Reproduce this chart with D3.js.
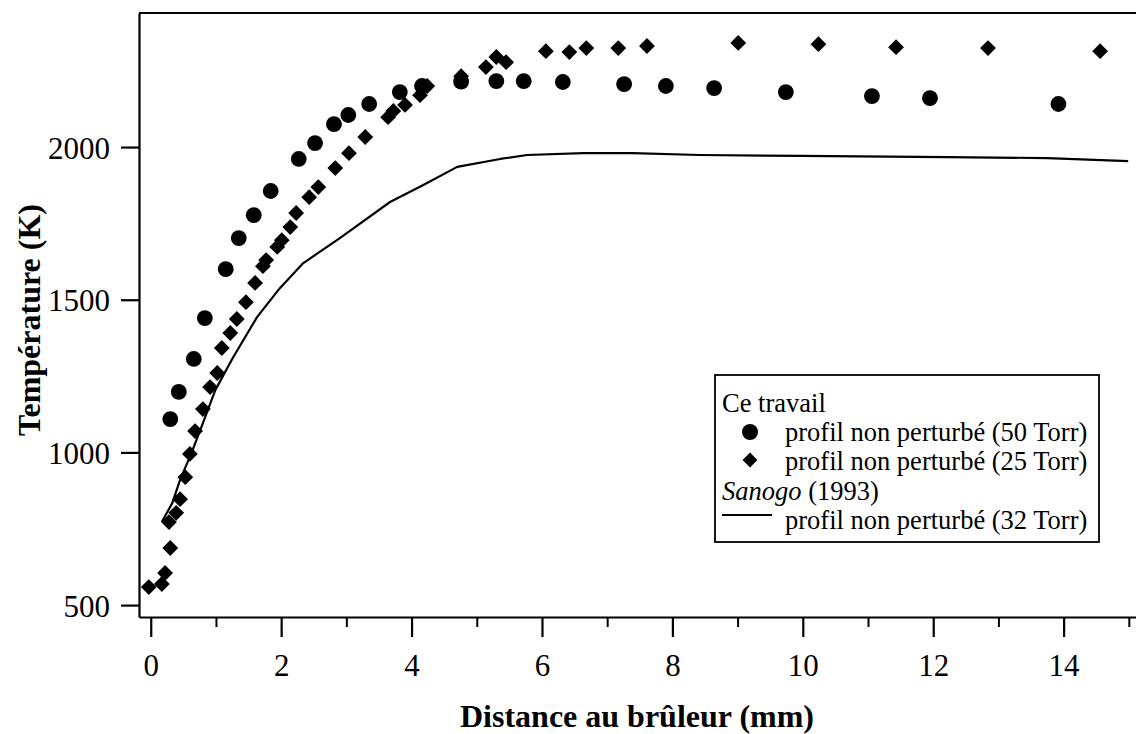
<!DOCTYPE html>
<html>
<head>
<meta charset="utf-8">
<script src="https://cdn.jsdelivr.net/npm/d3@7/dist/d3.min.js"></script>
<style>
  html, body { margin: 0; padding: 0; background: #fff; }
  svg { display: block; }
  text { font-family: "Liberation Serif", "Times New Roman", serif; fill: #000; }
</style>
</head>
<body>
<svg id="chart" width="1136" height="734"></svg>
<script>
// ---- Data ----
// Ce travail, profil non perturbé (50 Torr) — circles
const dist50 = [0.30, 0.43, 0.66, 0.83, 1.15, 1.35, 1.58, 1.84, 2.27, 2.52, 2.81, 3.03, 3.35, 3.82, 4.16, 4.76, 5.30, 5.72, 6.32, 7.26, 7.90, 8.64, 9.74, 11.06, 11.95, 13.92];
const temp50 = [1109, 1198, 1306, 1440, 1600, 1702, 1777, 1856, 1961, 2013, 2075, 2105, 2141, 2180, 2200, 2214, 2216, 2216, 2213, 2206, 2200, 2193, 2180, 2167, 2160, 2141];

// Ce travail, profil non perturbé (25 Torr) — diamonds
const dist25 = [-0.03, 0.17, 0.22, 0.30, 0.28, 0.39, 0.45, 0.53, 0.60, 0.68, 0.80, 0.91, 1.02, 1.09, 1.22, 1.32, 1.46, 1.60, 1.72, 1.77, 1.94, 2.01, 2.14, 2.23, 2.43, 2.57, 2.83, 3.04, 3.29, 3.64, 3.72, 3.90, 4.13, 4.24, 4.76, 5.14, 5.30, 5.45, 6.06, 6.42, 6.68, 7.17, 7.61, 9.01, 10.24, 11.43, 12.84, 14.56];
const temp25 = [559, 569, 605, 687, 772, 802, 847, 919, 995, 1070, 1142, 1214, 1260, 1342, 1391, 1437, 1492, 1555, 1610, 1630, 1673, 1695, 1738, 1784, 1836, 1869, 1931, 1980, 2033, 2098, 2118, 2138, 2170, 2200, 2232, 2262, 2295, 2278, 2314, 2311, 2324, 2324, 2331, 2341, 2337, 2327, 2324, 2314];

// Sanogo (1993), profil non perturbé (32 Torr) — line
const distSanogo = [0.17, 0.33, 0.45, 0.63, 0.80, 0.99, 1.26, 1.63, 1.98, 2.34, 2.90, 3.67, 4.18, 4.70, 5.36, 5.77, 6.63, 7.39, 8.42, 9.96, 12.21, 13.75, 14.99];
const tempSanogo = [772, 834, 910, 1001, 1096, 1204, 1310, 1443, 1538, 1620, 1702, 1820, 1876, 1935, 1961, 1974, 1980, 1980, 1974, 1971, 1967, 1964, 1954];

const xMajorTicks = [0, 2, 4, 6, 8, 10, 12, 14];
const xMinorTicks = [1, 3, 5, 7, 9, 11, 13, 15];
const yTicks = [500, 1000, 1500, 2000];

const xTitle = "Distance au brûleur (mm)";
const yTitle = "Température (K)";

// ---- Layout ----
const svg = d3.select("#chart");
const L = 139, T = 13, R = 1136, B = 617;

const x = d3.scaleLinear().domain([-0.18, 15.11]).range([L, R]);
const y = d3.scaleLinear().domain([461, 2439]).range([B, T]);

// frame top line
svg.append("line").attr("x1", L).attr("x2", R).attr("y1", T).attr("y2", T)
  .attr("stroke", "#000").attr("stroke-width", 2);

// x axis
const gx = svg.append("g").attr("transform", `translate(0,${B})`)
  .call(d3.axisBottom(x).tickValues(xMajorTicks).tickSize(20).tickSizeOuter(0).tickPadding(17).tickFormat(d3.format("d")));
gx.select(".domain").attr("stroke-width", 2.2);
gx.selectAll(".tick line").attr("stroke-width", 2.2);
gx.selectAll("text").style("font-size", "31px").style("font-family", "Liberation Serif");

const gxm = svg.append("g").attr("transform", `translate(0,${B})`)
  .call(d3.axisBottom(x).tickValues(xMinorTicks).tickSize(10).tickSizeOuter(0).tickFormat(""));
gxm.select(".domain").remove();
gxm.selectAll(".tick line").attr("stroke-width", 2);

// y axis
const gy = svg.append("g").attr("transform", `translate(${L},0)`)
  .call(d3.axisLeft(y).tickValues(yTicks).tickSize(18).tickSizeOuter(0).tickPadding(11).tickFormat(d3.format("d")));
gy.select(".domain").attr("stroke-width", 2.2);
gy.selectAll(".tick line").attr("stroke-width", 2.2);
gy.selectAll("text").style("font-size", "31px").style("font-family", "Liberation Serif").attr("dy", "0.36em");

// axis titles
svg.append("text").attr("x", 637).attr("y", 727).attr("text-anchor", "middle")
  .style("font-size", "32px").style("font-weight", "bold").text(xTitle);
svg.append("text").attr("transform", "translate(40,320) rotate(-90)").attr("text-anchor", "middle")
  .style("font-size", "32px").style("font-weight", "bold").text(yTitle);

// Sanogo line
const line = d3.line().x((d, i) => x(distSanogo[i])).y((d, i) => y(tempSanogo[i]));
svg.append("path").datum(distSanogo).attr("d", line)
  .attr("fill", "none").attr("stroke", "#000").attr("stroke-width", 2.2).attr("stroke-linejoin", "round");

// diamonds (25 Torr)
const diamond = d3.symbol().type(d3.symbolSquare).size(125);
svg.append("g").selectAll("path").data(dist25).join("path")
  .attr("d", diamond)
  .attr("transform", (d, i) => `translate(${x(d)},${y(temp25[i])}) rotate(45)`)
  .attr("fill", "#000");

// circles (50 Torr)
svg.append("g").selectAll("circle").data(dist50).join("circle")
  .attr("cx", d => x(d)).attr("cy", (d, i) => y(temp50[i])).attr("r", 7.9)
  .attr("fill", "#000");

// legend
const lg = svg.append("g");
lg.append("rect").attr("x", 715).attr("y", 375).attr("width", 384).attr("height", 167)
  .attr("fill", "#fff").attr("stroke", "#000").attr("stroke-width", 1.8);
const fs = "26.5px";
lg.append("text").attr("x", 722).attr("y", 412).style("font-size", fs).text("Ce travail");
lg.append("circle").attr("cx", 750).attr("cy", 432).attr("r", 8).attr("fill", "#000");
lg.append("text").attr("x", 785).attr("y", 441).style("font-size", fs).text("profil non perturbé (50 Torr)");
lg.append("path").attr("d", d3.symbol().type(d3.symbolSquare).size(110))
  .attr("transform", "translate(750,460) rotate(45)").attr("fill", "#000");
lg.append("text").attr("x", 785).attr("y", 470).style("font-size", fs).text("profil non perturbé (25 Torr)");
const t4 = lg.append("text").attr("x", 722).attr("y", 500).style("font-size", fs);
t4.append("tspan").style("font-style", "italic").text("Sanogo");
t4.append("tspan").text(" (1993)");
lg.append("line").attr("x1", 722).attr("x2", 772).attr("y1", 515).attr("y2", 515)
  .attr("stroke", "#000").attr("stroke-width", 2);
lg.append("text").attr("x", 785).attr("y", 529).style("font-size", fs).text("profil non perturbé (32 Torr)");
</script>
</body>
</html>
